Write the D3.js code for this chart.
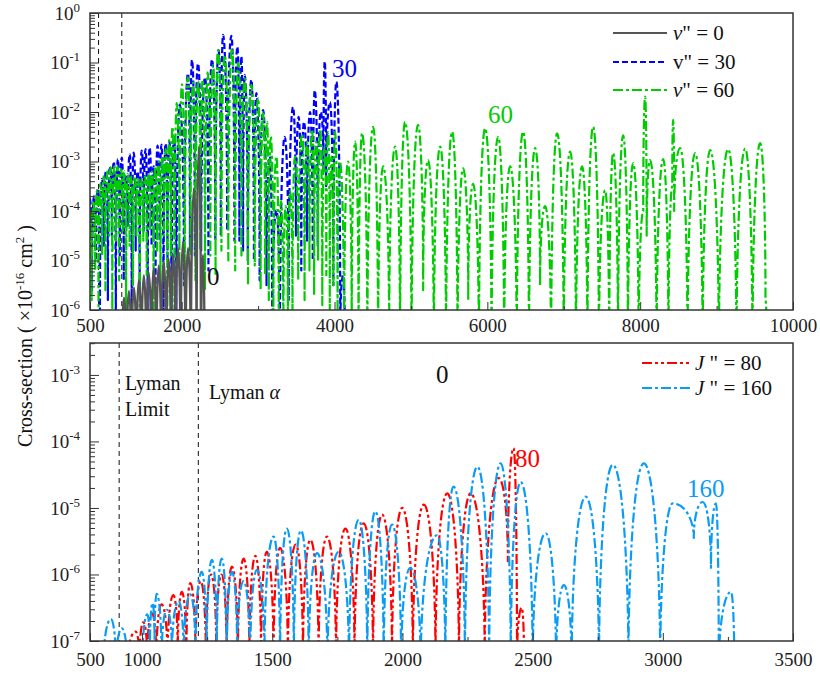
<!DOCTYPE html>
<html>
<head>
<meta charset="utf-8">
<script src="https://cdn.jsdelivr.net/npm/d3@7"></script>
<style>
  body { margin: 0; background: #fff; }
</style>
</head>
<body>
<svg id="chart" width="820" height="676"></svg>
<script>
// values are [wavelength (Å), log10 of cross-section (1e-16 cm^2)]
const v0 = [[1145,-7.5],[1180,-6.1],[1212,-7.5],[1245,-5.75],[1278,-7.5],[1310,-5.62],[1342,-7.5],[1375,-5.55],[1408,-7.5],
  [1440,-5.4],[1472,-7.5],[1505,-5.3],[1538,-7.5],[1570,-5.25],[1602,-7.5],[1635,-5.15],[1668,-7.5],[1700,-5.1],[1732,-7.5],
  [1765,-5.02],[1798,-7.5],[1830,-4.97],[1860,-7.5],[1890,-4.89],[1920,-7.5],[1952,-4.75],[1985,-7.5],[2017,-4.62],[2050,-7.5],
  [2083,-4.75],[2120,-7.5],[2161,-3.54],[2195,-7.2],[2227,-2.7],[2252,-7.5],[2279,-4.89],[2300,-7.5]];

const v30 = [[800,-3.75],[826,-5.6],[852,-3.7],[878,-5.0],[904,-3.55],[930,-6.2],[956,-3.35],[982,-4.7],[1008,-3.2],[1034,-5.8],
  [1060,-3.1],[1086,-4.5],[1112,-3.0],[1138,-6.5],[1164,-2.95],[1190,-4.9],[1216,-2.92],[1242,-5.4],[1268,-3.3],[1294,-4.3],
  [1320,-2.85],[1346,-6.3],[1372,-2.82],[1398,-4.8],[1424,-3.2],[1450,-5.6],[1476,-2.78],[1502,-4.4],[1528,-2.75],[1554,-6.4],
  [1580,-2.72],[1606,-4.7],[1632,-3.1],[1658,-5.5],[1684,-2.68],[1710,-4.6],[1736,-2.66],[1762,-6.5],[1788,-2.64],[1814,-5.0],
  [1840,-2.6],[1866,-6.5],[1900,-2.5],[1930,-6.5],[1975,-1.85],[2030,-5.5],[2083,-1.22],[2108,-4.8],[2135,-0.95],[2172,-4.9],
  [2214,-1.02],[2255,-4.8],[2305,-1.3],[2350,-5.2],[2397,-0.94],[2440,-4.6],[2484,-0.75],[2512,-4.5],[2541,-0.44],[2595,-4.4],
  [2650,-0.46],[2690,-4.6],[2729,-0.68],[2755,-4.6],[2781,-0.88],[2803,-4.8],[2825,-1.25],[2865,-5.0],[2912,-1.35],[2945,-5.0],
  [2977,-1.62],[3020,-5.4],[3065,-1.96],[3110,-5.5],[3152,-2.9],[3185,-6.5],[3239,-3.98],[3285,-7],[3348,-2.5],[3400,-5.8],
  [3457,-1.9],[3495,-4.5],[3530,-2.1],[3565,-5.2],[3600,-2.2],[3640,-4.6],[3680,-2.0],[3715,-5.0],[3741,-1.56],[3780,-4.7],
  [3820,-2.0],[3855,-3.2],[3872,-0.98],[3890,-3.5],[3940,-1.8],[3985,-5.5],[4024,-1.39],[4075,-6.5],[4112,-5.3],[4140,-7.5]];

const v60 = [[800,-4.0],[822,-5.8],[845,-3.8],[868,-5.2],[890,-3.6],[912,-6.3],[935,-3.45],[958,-4.9],[980,-3.3],[1002,-5.6],
  [1025,-3.2],[1048,-4.5],[1070,-3.12],[1092,-6.0],[1115,-3.1],[1138,-4.6],[1160,-3.1],[1182,-5.4],[1205,-3.15],[1228,-4.4],
  [1250,-3.2],[1272,-6.2],[1295,-3.25],[1318,-4.7],[1340,-3.3],[1362,-5.5],[1385,-3.3],[1408,-4.5],[1430,-3.35],[1452,-6.3],
  [1475,-3.35],[1498,-4.6],[1520,-3.3],[1542,-5.3],[1565,-3.25],[1588,-4.4],[1610,-3.2],[1632,-6.0],[1655,-3.1],[1678,-4.8],
  [1700,-3.0],[1722,-5.6],[1745,-2.9],[1768,-4.5],[1790,-2.75],[1812,-6.2],[1835,-2.57],[1858,-4.9],[1880,-2.3],[1905,-6.0],
  [1935,-1.82],[1970,-5.2],[2004,-1.44],[2040,-5.5],[2080,-1.3],[2115,-4.9],[2150,-1.4],[2180,-5.4],[2215,-1.38],[2245,-4.8],
  [2275,-1.35],[2305,-5.6],[2340,-1.2],[2375,-4.9],[2410,-1.05],[2443,-5.3],[2476,-0.75],[2520,-4.8],[2563,-0.85],[2610,-5.0],
  [2659,-0.71],[2700,-5.2],[2740,-1.0],[2782,-4.9],[2825,-1.32],[2868,-5.5],[2912,-1.45],[2956,-5.1],[3000,-1.72],[3033,-5.6],
  [3065,-2.0],[3092,-5.3],[3117,-2.2],[3140,-5.8],[3165,-2.5],[3200,-6.2],[3239,-2.9],[3270,-6.5],[3300,-3.8],[3330,-6.8],
  [3360,-3.9],[3390,-6.5],[3420,-3.6],[3450,-6.2],[3480,-2.9],[3525,-5.4],[3575,-2.45],[3608,-5.8],[3640,-2.6],[3672,-5.2],
  [3706,-2.35],[3733,-5.7],[3760,-2.6],[3785,-5.0],[3811,-2.35],[3840,-5.9],[3870,-2.7],[3893,-5.3],[3916,-2.4],[3938,-6.0],
  [3960,-2.9],[3985,-5.5],[4007,-2.4],[4040,-6.3],[4070,-3.0],[4125,-6.8],[4177,-3.0],[4225,-6.5],[4270,-2.6],[4315,-6.9],
  [4360,-2.43],[4430,-7],[4505,-2.3],[4570,-7],[4636,-3.1],[4715,-6.6],[4793,-2.7],[4858,-7],[4923,-2.2],[5008,-7],
  [5093,-2.26],[5160,-5.6],[5224,-2.97],[5300,-7],[5382,-2.7],[5460,-7],[5539,-2.4],[5610,-7],[5683,-3.14],[5750,-5.8],
  [5813,-3.45],[5890,-7],[5971,-2.33],[6055,-7],[6141,-2.5],[6220,-7],[6298,-3.1],[6385,-7],[6468,-2.4],[6545,-7],
  [6625,-2.73],[6690,-5.5],[6756,-3.9],[6835,-7],[6913,-2.43],[7000,-7],[7083,-2.8],[7160,-7],[7240,-3.1],[7310,-7],
  [7384,-2.3],[7460,-7],[7541,-3.58],[7595,-7],[7646,-2.83],[7710,-7],[7777,-2.47],[7840,-7],[7908,-3.03],[7980,-7],
  [8040,-4.0],[8065,-1.69],[8085,-4.5],[8130,-2.97],[8215,-7],[8301,-2.95],[8370,-7],[8420,-3.5],[8431,-2.16],[8445,-4.0],
  [8523,-2.73],[8620,-7],[8719,-2.83],[8818,-7],[8916,-2.77],[9030,-7],[9151,-2.75],[9260,-7],[9374,-2.74],[9470,-7],
  [9570,-2.63],[9640,-5.8],[9662,-7.5]];

const j80 = [[940,-7.5],[975,-6.86],[990,-7.3],[1005,-6.72],[1020,-7.3],[1037,-6.58],[1055,-7.3],[1075,-6.45],[1098,-7.3],
  [1120,-6.31],[1137,-7.2],[1153,-6.26],[1170,-7.3],[1185,-6.13],[1205,-7.2],[1225,-6.1],[1245,-7.3],[1265,-6.0],[1285,-7.2],
  [1305,-6.0],[1325,-7.3],[1345,-5.88],[1368,-7.3],[1390,-5.76],[1412,-7.3],[1435,-5.72],[1457,-7.3],[1479,-5.66],[1505,-7.3],
  [1530,-5.6],[1560,-7.3],[1590,-5.55],[1618,-7.3],[1646,-5.48],[1678,-7.3],[1710,-5.43],[1745,-7.3],[1781,-5.31],[1816,-7.3],
  [1851,-5.23],[1887,-7.3],[1922,-5.1],[1960,-7.3],[1999,-5.0],[2040,-7.3],[2082,-4.95],[2127,-7.3],[2172,-4.78],[2217,-7.3],
  [2262,-4.78],[2316,-7.3],[2370,-4.55],[2405,-5.8],[2427,-4.1],[2440,-7.3],[2458,-6.5],[2468,-7.5]];

const j160 = [[850,-7.5],[880,-6.67],[900,-7.4],[922,-6.81],[945,-7.5],[1000,-7.5],[1020,-6.6],[1030,-7.2],[1040,-6.43],
  [1048,-7.0],[1056,-6.29],[1075,-7.3],[1095,-6.53],[1115,-7.2],[1140,-6.4],[1160,-7.3],[1185,-6.3],[1205,-7.2],[1229,-5.96],
  [1248,-7.3],[1268,-5.78],[1287,-7.2],[1306,-5.76],[1325,-7.4],[1345,-5.96],[1365,-7.2],[1390,-6.1],[1415,-7.4],[1441,-5.93],
  [1470,-7.3],[1505,-5.43],[1530,-7.4],[1556,-5.31],[1583,-7.3],[1610,-5.34],[1640,-7.4],[1672,-5.68],[1712,-7.4],[1755,-5.66],
  [1795,-7.4],[1832,-5.18],[1865,-7.4],[1896,-5.05],[1928,-7.4],[1960,-5.25],[1995,-7.4],[2030,-5.9],[2070,-7.4],[2133,-5.41],
  [2165,-7.4],[2196,-4.68],[2240,-7.4],[2288,-4.38],[2333,-7.4],[2377,-4.33],[2416,-7.4],[2454,-4.61],[2500,-7.4],[2550,-5.38],
  [2590,-7.4],[2620,-6.16],[2650,-7.4],[2704,-4.83],[2755,-7.4],[2808,-4.35],[2868,-7.4],[2927,-4.33],[2990,-7.4],[3038,-4.93],
  [3119,-5.45],[3153,-4.91],[3185,-5.9],[3204,-4.93],[3215,-7.4],[3262,-6.26],[3275,-7.5]];

const lymanLines = [912, 1216];
const topXTicks = [800, 2000, 4000, 6000, 8000, 10000];
const topXLabels = ['500', '2000', '4000', '6000', '8000', '10000'];
const topXMinor = [3000, 5000, 7000, 9000];
const botXTicks = [800, 1000, 1500, 2000, 2500, 3000, 3500];
const botXLabels = ['500', '1000', '1500', '2000', '2500', '3000', '3500'];
const botXMinor = [1250, 1750, 2250, 2750, 3250];
const topDecades = [-6, -5, -4, -3, -2, -1, 0];
const botDecades = [-7, -6, -5, -4, -3];

const serif = 'Liberation Serif';
const svg = d3.select('#chart');
const left = 90, right = 793;

// curve: flat tangent at the higher end of each segment, vertical at the lower end
// (gives the rounded arches with steep sides that a log axis makes of oscillations)
function archCurve(context) {
    let px, py, n = 0;
    const k = 0.55;
    return {
        areaStart() {}, areaEnd() {},
        lineStart() { n = 0; },
        lineEnd() {},
        point(x, y) {
            x = +x; y = +y;
            if (n === 0) context.moveTo(x, y);
            else if (py < y) context.bezierCurveTo(px + k * (x - px), py, x, y - k * (y - py), x, y);
            else context.bezierCurveTo(px, py - k * (py - y), x - k * (x - px), y, x, y);
            px = x; py = y; n++;
        }
    };
}

function drawPanel(cfg) {
    const x = d3.scaleLinear().domain(cfg.xDomain).range([left, right]);
    const y = d3.scaleLog().domain(cfg.yDomain).range([cfg.bottom, cfg.top]);
    const g = svg.append('g');

    g.append('clipPath').attr('id', cfg.id)
        .append('rect')
        .attr('x', left).attr('y', cfg.top)
        .attr('width', right - left).attr('height', cfg.bottom - cfg.top);

    // Lyman lines
    lymanLines.forEach(l => {
        g.append('line')
            .attr('x1', x(l)).attr('x2', x(l))
            .attr('y1', cfg.top).attr('y2', cfg.bottom)
            .attr('stroke', '#111').attr('stroke-width', 1)
            .attr('stroke-dasharray', '5,4');
    });

    // Series
    const line = d3.line()
        .x(d => x(d[0]))
        .y(d => y(Math.pow(10, d[1])))
        .curve(archCurve);
    const plot = g.append('g').attr('clip-path', `url(#${cfg.id})`);
    cfg.series.forEach(s => {
        plot.append('path')
            .datum(s.data)
            .attr('d', line)
            .attr('fill', 'none')
            .attr('stroke', s.color)
            .attr('stroke-width', s.width || 2)
            .attr('stroke-dasharray', s.dash)
            .attr('stroke-linejoin', 'round');
    });

    // x axis
    g.append('g')
        .attr('transform', `translate(0,${cfg.bottom})`)
        .call(d3.axisBottom(x).tickValues(cfg.xTicks).tickSizeInner(-8).tickSizeOuter(0)
            .tickFormat((d, i) => cfg.xLabels[i]))
        .call(a => a.select('.domain').remove())
        .attr('font-family', serif)
        .selectAll('text')
        .attr('dy', null).attr('y', cfg.xLabelY)
        .attr('font-family', serif)
        .attr('font-size', 19).attr('fill', '#222');
    g.append('g')
        .attr('transform', `translate(0,${cfg.bottom})`)
        .call(d3.axisBottom(x).tickValues(cfg.xMinor).tickSizeInner(-4).tickSizeOuter(0).tickFormat(''))
        .call(a => a.select('.domain').remove());

    // y axis
    const yAxis = g.append('g')
        .attr('transform', `translate(${left},0)`)
        .call(d3.axisLeft(y).tickValues(cfg.decades.map(e => Math.pow(10, e)))
            .tickSizeInner(-9).tickSizeOuter(0).tickFormat(''))
        .call(a => a.select('.domain').remove())
        .attr('font-family', serif);
    yAxis.selectAll('.tick text').each(function(d) {
        const t = d3.select(this);
        t.attr('x', -10).attr('dy', '0.33em')
            .attr('font-family', serif)
            .attr('font-size', 19).attr('fill', '#222');
        t.append('tspan').text('10');
        t.append('tspan').attr('dy', -8).attr('font-size', 13)
            .text(Math.round(Math.log10(d)));
    });
    const minor = [];
    cfg.decades.forEach(e => {
        for (let k = 2; k <= 9; k++) {
            const v = k * Math.pow(10, e);
            if (v <= cfg.yDomain[1]) minor.push(v);
        }
    });
    g.append('g')
        .attr('transform', `translate(${left},0)`)
        .call(d3.axisLeft(y).tickValues(minor).tickSizeInner(-5).tickSizeOuter(0).tickFormat(''))
        .call(a => a.select('.domain').remove());

    g.selectAll('.tick line').attr('stroke', '#333');

    // frame
    g.append('rect')
        .attr('x', left).attr('y', cfg.top)
        .attr('width', right - left).attr('height', cfg.bottom - cfg.top)
        .attr('fill', 'none').attr('stroke', '#333').attr('stroke-width', 1.5);

    return { g, x, y };
}

drawPanel({
    id: 'clipTop', top: 13, bottom: 310,
    xDomain: [800, 10000], yDomain: [1e-6, 1],
    xTicks: topXTicks, xLabels: topXLabels, xMinor: topXMinor, xLabelY: 22,
    decades: topDecades,
    series: [
        { data: v30, color: '#0000ff', dash: '6,3', width: 2.2 },
        { data: v60, color: '#00cc00', dash: '10,3,3,3', width: 2.2 },
        { data: v0, color: '#555555', dash: null, width: 2.4 }
    ]
});

drawPanel({
    id: 'clipBot', top: 343, bottom: 641,
    xDomain: [800, 3500], yDomain: [1e-7, 3.02e-3],
    xTicks: botXTicks, xLabels: botXLabels, xMinor: botXMinor, xLabelY: 25,
    decades: botDecades,
    series: [
        { data: j80, color: '#ff0000', dash: '10,3,3,3,3,3', width: 2.2 },
        { data: j160, color: '#0a9cf5', dash: '10,3,3,3', width: 2.2 }
    ]
});

// text helper: always serif
function txt(x, y, size) {
    return svg.append('text').attr('x', x).attr('y', y)
        .attr('font-family', serif).attr('font-size', size).attr('fill', '#111');
}

// legends
function legend(items, x0, x1, tx) {
    items.forEach(it => {
        svg.append('line')
            .attr('x1', x0).attr('x2', x1).attr('y1', it.y).attr('y2', it.y)
            .attr('stroke', it.color).attr('stroke-width', 2.2)
            .attr('stroke-dasharray', it.dash);
        const t = txt(tx, it.y, 21).attr('dy', '0.35em');
        t.append('tspan').attr('font-style', it.italic ? 'italic' : 'normal').text(it.sym);
        t.append('tspan').text(it.rest);
    });
}
legend([
    { y: 33, color: '#555555', dash: null, sym: 'v', italic: true, rest: '" = 0' },
    { y: 62, color: '#0000ff', dash: '6,3', sym: 'v', italic: false, rest: '" = 30' },
    { y: 90, color: '#00cc00', dash: '10,3,3,3', sym: 'v', italic: true, rest: '" = 60' }
], 613, 667, 673);
legend([
    { y: 363, color: '#ff0000', dash: '10,3,3,3,3,3', sym: 'J', italic: true, rest: ' " = 80' },
    { y: 388, color: '#0a9cf5', dash: '10,3,3,3', sym: 'J', italic: true, rest: ' " = 160' }
], 642, 690, 695);

// curve labels
const labels = [
    { x: 207, y: 285, text: '0', color: '#111' },
    { x: 332, y: 77, text: '30', color: '#0000ff' },
    { x: 488, y: 123, text: '60', color: '#00cc00' },
    { x: 436, y: 383, text: '0', color: '#111' },
    { x: 515, y: 467, text: '80', color: '#ff0000' },
    { x: 687, y: 497, text: '160', color: '#0a9cf5' }
];
labels.forEach(l => {
    txt(l.x, l.y, 25).attr('fill', l.color).text(l.text);
});

// Lyman annotations
txt(125, 390, 20).text('Lyman');
txt(125, 416, 20).text('Limit');
const la = txt(209, 399, 20);
la.append('tspan').text('Lyman ');
la.append('tspan').attr('font-style', 'italic').text('α');

// y title
const yt = txt(0, 0, 20)
    .attr('transform', 'translate(32,336) rotate(-90)')
    .attr('text-anchor', 'middle');
yt.append('tspan').text('Cross-section ( ×10');
yt.append('tspan').attr('dy', -8).attr('font-size', 13).text('-16');
yt.append('tspan').attr('dy', 8).text(' cm');
yt.append('tspan').attr('dy', -8).attr('font-size', 13).text('2');
yt.append('tspan').attr('dy', 8).text(' )');
</script>
</body>
</html>
